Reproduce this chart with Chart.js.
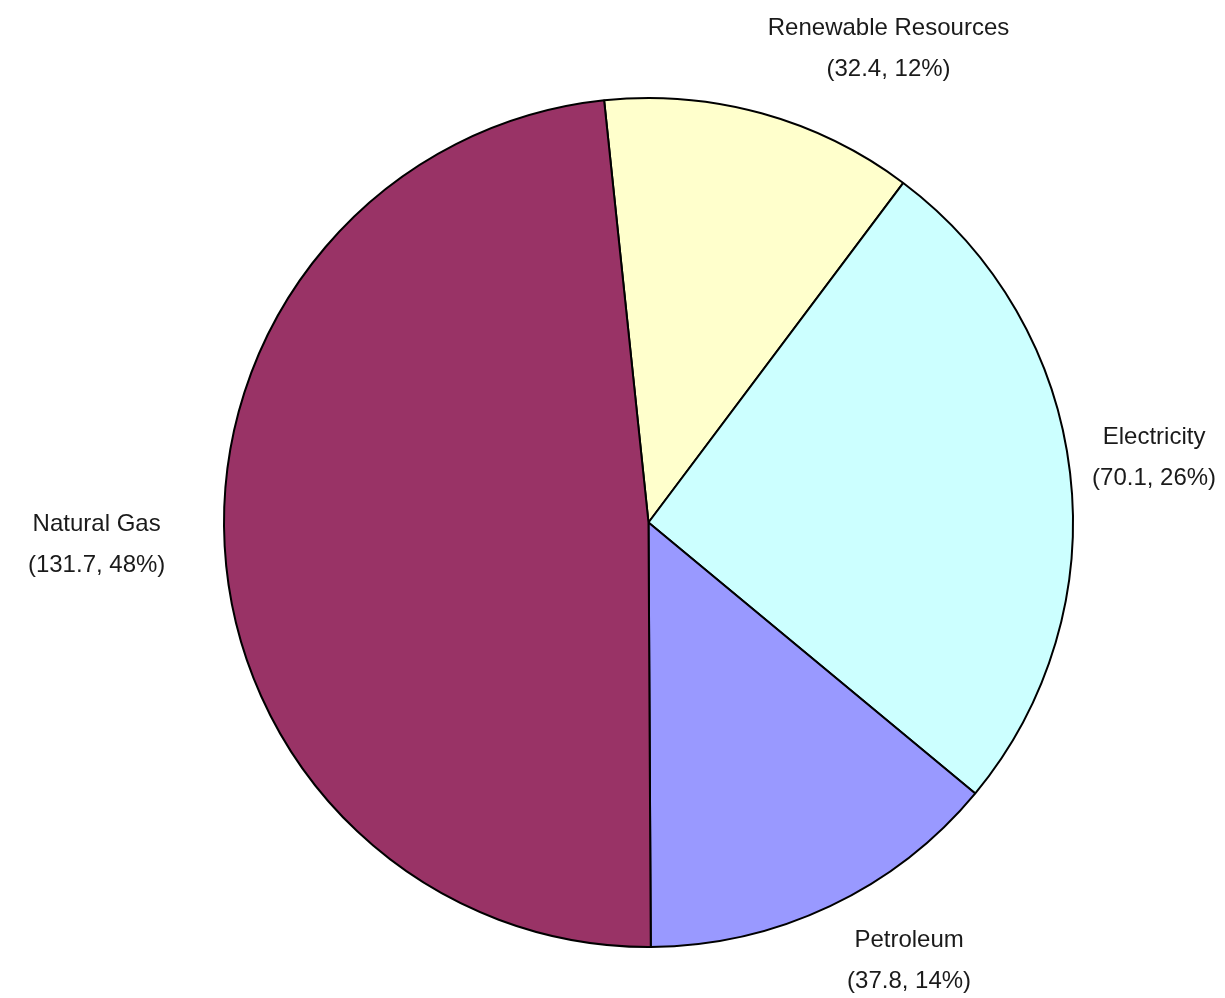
<!DOCTYPE html>
<html>
<head>
<meta charset="utf-8">
<title>Energy Sources</title>
<script src="https://cdn.jsdelivr.net/npm/chart.js@4.4.1/dist/chart.umd.min.js"></script>
<style>
  html, body { margin: 0; padding: 0; background: #fff; }
  #wrap { width: 1225px; height: 998px; position: relative; }
</style>
</head>
<body>
<div id="wrap"><canvas id="pie"></canvas></div>
<script>
let sources = ['Renewable Resources', 'Electricity', 'Petroleum', 'Natural Gas'];
let amounts = [32.4, 70.1, 37.8, 131.7];
let sliceColors = ['#FFFFCC', '#CCFFFF', '#9999FF', '#993366'];

// name + "(value, pct%)" drawn outside each slice
const sliceLabels = {
    id: 'sliceLabels',
    afterDatasetsDraw(chart, args, opts) {
        const ctx = chart.ctx;
        const meta = chart.getDatasetMeta(0);
        const total = amounts.reduce((a, b) => a + b, 0);
        ctx.save();
        ctx.font = opts.font;
        ctx.fillStyle = opts.color;
        ctx.textAlign = 'center';
        ctx.textBaseline = 'middle';
        meta.data.forEach((arc, i) => {
            const mid = (arc.startAngle + arc.endAngle) / 2;
            const shift = opts.shift[i];
            const x = arc.x + Math.cos(mid) * arc.outerRadius + shift[0];
            const y = arc.y + Math.sin(mid) * arc.outerRadius + shift[1];
            const pct = Math.round(amounts[i] / total * 100);
            ctx.fillText(sources[i], x, y - opts.lineGap / 2);
            ctx.fillText(`(${amounts[i].toFixed(1)}, ${pct}%)`, x, y + opts.lineGap / 2);
        });
        ctx.restore();
    }
};

function drawPie() {
    const ctx = document.getElementById('pie').getContext('2d');
    const data = {
        labels: sources,
        datasets: [{
            data: amounts,
            backgroundColor: sliceColors,
            borderColor: '#000',
            borderWidth: 2,
        }]
    };
    new Chart(ctx, {
        type: 'pie',
        data: data,
        plugins: [sliceLabels],
        options: {
            responsive: true,
            maintainAspectRatio: false,
            animation: false,
            events: [],
            rotation: -6,
            layout: {
                padding: { left: 222, right: 150, top: 97, bottom: 50 }
            },
            plugins: {
                legend: { display: false },
                tooltip: { enabled: false },
                sliceLabels: {
                    font: '24px "Liberation Sans", Arial, sans-serif',
                    color: '#1a1a1a',
                    lineGap: 41,
                    shift: [[127, -64], [84, -15], [79, 55], [-128, -1]],
                }
            }
        }
    });
}

drawPie();
</script>
</body>
</html>
